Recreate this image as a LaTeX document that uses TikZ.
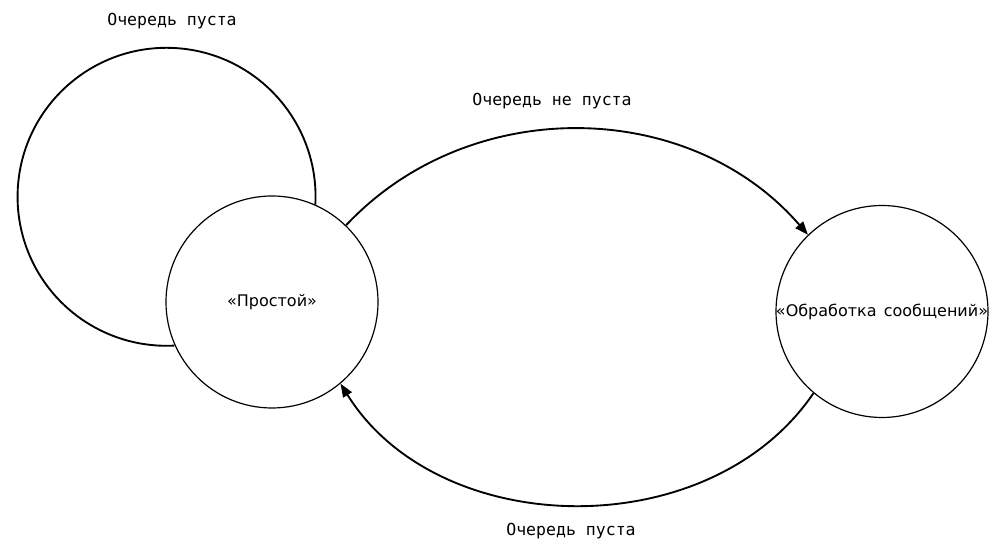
\documentclass[tikz,border=0pt]{standalone}
\usepackage{fontspec}
\setmainfont{DejaVu Sans}
\newfontfamily\labelfont{DejaVu Sans Mono}
\usetikzlibrary{arrows.meta}
\begin{document}
\begin{tikzpicture}[x=0.75pt,y=0.75pt,
  state/.style={circle,draw,line width=0.9pt,inner sep=0pt,minimum size=159pt},
  stext/.style={font=\fontsize{12}{14}\selectfont},
  lbl/.style={font=\labelfont\fontsize{12.4}{14}\selectfont},
  edge/.style={line width=1.4pt,-{Triangle[length=10pt,width=7.5pt]}}]
\useasboundingbox (0,0) rectangle (997,555);
\node (idle) at (272,253) [state,label={[stext]center:«Простой»}] {};
\node (proc) at (882,243.5) [state,label={[stext]center:«Обработка\hspace{0.45em}сообщений»}] {};
\node (l1) at (172,534) [lbl] {Очередь пуста};
\node (l2) at (552,454) [lbl] {Очередь не пуста};
\node (l3) at (571,24) [lbl] {Очередь пуста};
\draw [line width=1.4pt] (idle.66) arc[start angle=-3,end angle=273,radius=111.75pt];
\draw [edge] (idle.46) to[bend left=48] (proc.134);
\draw [edge] (proc.230) to[bend left=57] (idle.310);
\end{tikzpicture}
\end{document}
